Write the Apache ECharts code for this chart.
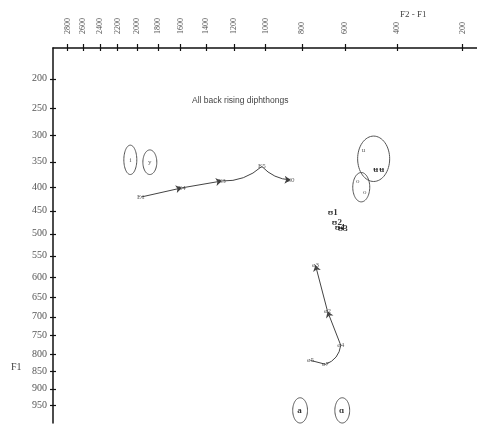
<!DOCTYPE html>
<html><head><meta charset="utf-8">
<script src="https://cdn.jsdelivr.net/npm/echarts@6/dist/echarts.min.js"></script>
<style>html,body{margin:0;padding:0;background:#fff}#c{width:477px;height:426px}</style>
</head><body><div id="c"></div>
<script>
// axis ticks (Hz)
const xTicks = [2800,2600,2400,2200,2000,1800,1600,1400,1200,1000,800,600,400,200];
const yTicks = [200,250,300,350,400,450,500,550,600,650,700,750,800,850,900,950];

// front trajectory
const trajALabels = ['E1','E4','E3','E5','E0'];
const trajAF2F1 = [1962,1591,1284,1023,860];
const trajAF1 = [421,402,388,359,386];
const trajAArrows = [true,true,false,true];
// back trajectory
const trajBLabels = ['ø5','ø7','ø4','ø2','ø3'];
const trajBF2F1 = [758,686,618,677,734];
const trajBF1 = [818,829,776,686,572];
const trajBArrows = [false,false,true,true];
// cluster of overlapping tokens
const clusterLabels = ['ʊ1','ʊ2','ʊ3','ʊ4'];
const clusterF2F1 = [653,635,609,622];
const clusterF1 = [453,475,489,486];
// ellipses (extent in Hz)
const ellF2F1Lo = [2002,1810,425,499,773,580];
const ellF2F1Hi = [2135,1942,547,567,849,644];
const ellF1Lo = [318,327,301,371,927,927];
const ellF1Hi = [375,375,389,431,1005,1005];
// labels inside ellipses
const ellTokLabels = ['i','y','u','ʉ','ʉ','o','o','a','ɑ'];
const ellTokF2F1 = [2067,1875,523,476,454,547,519,813,614];
const ellTokF1 = [346,350,327,365,366,389,410,965,965];
const ellTokBold = [false,false,false,true,true,false,false,true,true];

const tx = f => Math.log(f + 450);
const ty = f => Math.log(f + 700);
const fx = v => Math.round(Math.exp(v) - 450);
const fy = v => Math.round(Math.exp(v) - 700);

function segs(f2, f1, arrows, curv){
  const out = [];
  for (let i = 0; i < f2.length - 1; i++) {
    out.push({
      coords: [[tx(f2[i]), ty(f1[i])], [tx(f2[i+1]), ty(f1[i+1])]],
      symbol: ['none', arrows[i] ? 'arrow' : 'none'],
      symbolSize: 6,
      lineStyle: { curveness: curv[i] || 0 }
    });
  }
  return out;
}
const lineData = segs(trajAF2F1, trajAF1, trajAArrows, [0,0,-0.2,-0.2])
  .concat(segs(trajBF2F1, trajBF1, trajBArrows, [0,-0.3,0,0]));

function pts(labels, f2, f1, bold){
  return labels.map((l,i)=>({name:l, value:[tx(f2[i]), ty(f1[i])],
    label:{fontWeight: bold && bold[i] ? 'bold':'normal', color: bold && bold[i] ? '#000':'#333', fontSize: bold && bold[i] ? 9 : 7}}));
}
const pointData = pts(trajALabels, trajAF2F1, trajAF1)
  .concat(pts(trajBLabels, trajBF2F1, trajBF1))
  .concat(pts(clusterLabels, clusterF2F1, clusterF1, clusterLabels.map(()=>true)))
  .concat(pts(ellTokLabels, ellTokF2F1, ellTokF1, ellTokBold));

const ellData = ellF2F1Lo.map((v,i)=>[tx(v), tx(ellF2F1Hi[i]), ty(ellF1Lo[i]), ty(ellF1Hi[i])]);

const axisCommon = {
  type:'value', scale:true, splitLine:{show:false}
};
const chart = echarts.init(document.getElementById('c'));
chart.setOption({
  animation:false,
  backgroundColor:'#fff',
  grid:{left:53, right:0, top:48, bottom:3, containLabel:false},
  xAxis:[
    Object.assign({}, axisCommon, {
      position:'top', inverse:true, min:tx(163), max:tx(3000),
      axisLine:{show:true, onZero:false, lineStyle:{color:'#111', width:1.5}},
      axisTick:{show:true, inside:false, length:4, customValues:xTicks.map(tx), lineStyle:{color:'#111', width:1.2}},
      axisLabel:{show:true, rotate:-90, margin:14, customValues:xTicks.map(tx), formatter:v=>String(fx(v)),
        fontFamily:'Liberation Serif', fontSize:8, color:'#555'}
    }),
    Object.assign({}, axisCommon, {
      position:'top', inverse:true, min:tx(163), max:tx(3000),
      axisLine:{show:false},
      axisTick:{show:true, inside:true, length:3, customValues:xTicks.map(tx), lineStyle:{color:'#111', width:1.2}},
      axisLabel:{show:false}
    })
  ],
  yAxis:[
    Object.assign({}, axisCommon, {
      position:'left', inverse:true, min:ty(150), max:ty(1005),
      axisLine:{show:true, onZero:false, lineStyle:{color:'#111', width:1.5}},
      axisTick:{show:true, inside:false, length:3, customValues:yTicks.map(ty), lineStyle:{color:'#111', width:1.2}},
      axisLabel:{show:true, margin:6, customValues:yTicks.map(ty), formatter:v=>String(fy(v)),
        fontFamily:'Liberation Serif', fontSize:10, color:'#555'}
    }),
    Object.assign({}, axisCommon, {
      position:'left', inverse:true, min:ty(150), max:ty(1005),
      axisLine:{show:false},
      axisTick:{show:true, inside:true, length:3, customValues:yTicks.map(ty), lineStyle:{color:'#111', width:1.2}},
      axisLabel:{show:false}
    })
  ],
  graphic:[
    {type:'text', left:192, top:96, style:{text:'All back rising diphthongs', font:'8.5px "Liberation Sans"', fill:'#444'}},
    {type:'text', left:400, top:10, style:{text:'F2 - F1', font:'9px "Liberation Serif"', fill:'#444'}},
    {type:'text', left:11, top:362, style:{text:'F1', font:'10px "Liberation Serif"', fill:'#444'}}
  ],
  series:[
    {
      type:'lines', coordinateSystem:'cartesian2d', xAxisIndex:0, yAxisIndex:0,
      lineStyle:{color:'#444', width:1, opacity:1},
      data:lineData, silent:true, z:2
    },
    {
      type:'custom', xAxisIndex:0, yAxisIndex:0, clip:false, silent:true, z:3,
      data:ellData,
      renderItem:(params, api)=>{
        const p1 = api.coord([api.value(0), api.value(2)]);
        const p2 = api.coord([api.value(1), api.value(3)]);
        const cx=(p1[0]+p2[0])/2, cy=(p1[1]+p2[1])/2;
        const rx=Math.abs(p1[0]-p2[0])/2, ry=Math.abs(p1[1]-p2[1])/2;
        const pts=[];
        for(let k=0;k<64;k++){const a=k/64*Math.PI*2; pts.push([cx+rx*Math.cos(a), cy+ry*Math.sin(a)]);}
        return {type:'polygon', shape:{points:pts}, style:{fill:'none', stroke:'#555', lineWidth:1}};
      }
    },
    {
      type:'scatter', xAxisIndex:0, yAxisIndex:0, symbolSize:0, silent:true, z:4,
      data:pointData,
      label:{show:true, position:'inside', formatter:p=>p.name, fontFamily:'Liberation Serif', fontSize:7, color:'#333'}
    }
  ]
});
</script></body></html>
